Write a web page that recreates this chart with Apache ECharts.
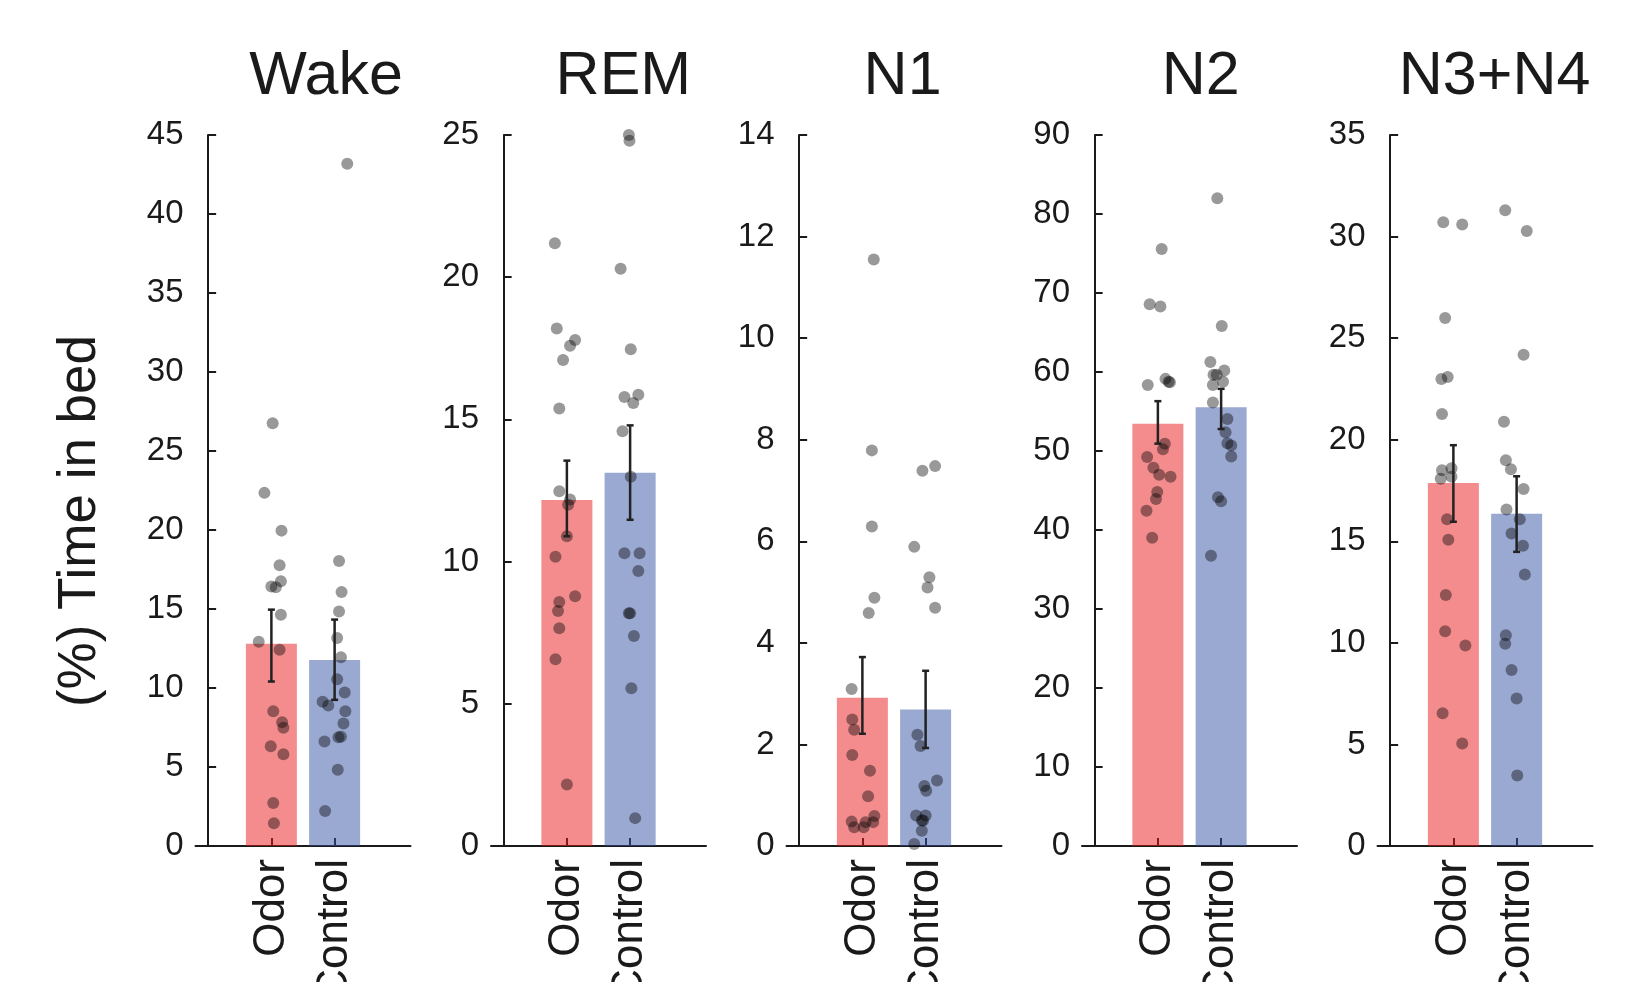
<!DOCTYPE html>
<html>
<head>
<meta charset="utf-8">
<script src="https://cdn.jsdelivr.net/npm/echarts@6/dist/echarts.min.js"></script>
<style>
html,body{margin:0;padding:0;background:#fff;}
#chart{width:1640px;height:982px;}
</style>
</head>
<body>
<div id="chart"></div>
<script>
// ---- data ----
const categories = ['Odor', 'Control'];
const panels = ['Wake', 'REM', 'N1', 'N2', 'N3+N4'];
const yMax = [45, 25, 14, 90, 35];
const yStep = [5, 5, 2, 10, 5];

const odorMean = [12.8, 12.17, 2.92, 53.45, 17.87];
const ctrlMean = [11.78, 13.12, 2.69, 55.54, 16.35];
const odorLo = [10.41, 10.89, 2.21, 50.93, 15.96];
const odorHi = [14.96, 13.55, 3.72, 56.31, 19.73];
const ctrlLo = [9.25, 11.47, 1.93, 52.78, 14.48];
const ctrlHi = [14.33, 14.79, 3.45, 57.87, 18.2];

const wakeOdor = [26.75,22.35,19.96,17.77,16.76,16.43,16.37,14.63,12.93,12.42,8.53,7.84,7.48,6.31,5.80,2.72,1.44];
const wakeOdorDx = [0.02,-0.11,0.16,0.13,0.15,0,0.07,0.15,-0.2,0.13,0.03,0.17,0.19,-0.01,0.19,0.03,0.04];
const wakeCtrl = [43.18,18.04,16.07,14.84,13.17,11.94,10.56,9.13,8.89,9.72,8.53,7.75,6.91,6.88,6.61,4.82,2.21];
const wakeCtrlDx = [0.2,0.07,0.11,0.07,0.04,0.1,0.04,-0.19,-0.1,0.16,0.17,0.14,0.1,0.06,-0.16,0.05,-0.15];

const remOdor = [21.19,18.2,17.79,17.59,17.09,15.38,12.47,12.18,12.0,10.89,10.17,8.78,8.58,8.26,7.66,6.57,2.16];
const remOdorDx = [-0.19,-0.16,0.13,0.05,-0.06,-0.12,-0.12,0.05,0.02,0,-0.18,0.13,-0.12,-0.14,-0.12,-0.18,0];
const remCtrl = [25.0,24.8,20.3,17.47,15.79,15.87,15.58,14.58,12.98,10.29,10.29,9.67,8.18,8.18,7.38,5.55,0.98];
const remCtrlDx = [-0.02,-0.01,-0.15,0.01,-0.09,0.13,0.05,-0.12,0.01,-0.09,0.15,0.13,-0.02,0,0.06,0.02,0.08];

const n1Odor = [11.55,7.79,6.29,4.89,4.59,3.09,2.49,2.29,1.79,1.48,0.98,0.59,0.48,0.37,0.37,0.47,0.47];
const n1OdorDx = [0.18,0.15,0.15,0.19,0.1,-0.17,-0.16,-0.13,-0.16,0.12,0.09,0.19,-0.17,-0.13,0.02,0.05,0.17];
const n1Ctrl = [7.48,7.39,5.89,5.29,5.09,4.69,2.19,1.97,1.29,1.18,1.09,0.6,0.6,0.5,0.5,0.3,0.04];
const n1CtrlDx = [0.15,-0.05,-0.18,0.06,0.03,0.15,-0.13,-0.08,0.18,-0.02,0.01,-0.15,0,-0.06,-0.04,-0.06,-0.18];

const n2Odor = [75.58,68.58,68.28,58.35,59.13,58.77,58.71,50.93,50.21,49.25,47.88,46.98,46.74,44.82,43.93,42.43,39.02];
const n2OdorDx = [0.06,-0.13,0.04,-0.16,0.12,0.17,0.19,0.11,0.08,-0.17,-0.07,0.02,0.2,-0.01,-0.03,-0.18,-0.09];
const n2Ctrl = [81.99,65.83,61.28,59.66,59.66,60.2,58.35,58.77,56.13,54.04,52.36,50.99,50.69,49.31,44.16,43.63,36.74];
const n2CtrlDx = [-0.06,0.01,-0.17,-0.12,-0.07,0.05,-0.13,0.03,-0.13,0.1,0.07,0.1,0.16,0.16,-0.05,0,-0.16];

const n34Odor = [30.7,30.6,25.99,22.99,23.09,21.27,18.5,18.59,18.08,18.18,16.08,15.08,12.36,10.57,9.87,6.54,5.05];
const n34OdorDx = [-0.16,0.14,-0.13,-0.19,-0.09,-0.18,-0.18,-0.03,-0.2,-0.03,-0.1,-0.08,-0.12,-0.13,0.19,-0.17,0.14];
const n34Ctrl = [31.3,30.28,24.18,20.88,18.99,18.55,17.57,16.57,16.08,15.38,14.78,13.36,10.38,9.96,8.66,7.26,3.47];
const n34CtrlDx = [-0.18,0.16,0.11,-0.2,-0.17,-0.09,0.11,-0.16,0.05,-0.08,0.1,0.13,-0.17,-0.18,-0.08,0,0.01];

const odorPoints = [wakeOdor, remOdor, n1Odor, n2Odor, n34Odor];
const odorJitter = [wakeOdorDx, remOdorDx, n1OdorDx, n2OdorDx, n34OdorDx];
const ctrlPoints = [wakeCtrl, remCtrl, n1Ctrl, n2Ctrl, n34Ctrl];
const ctrlJitter = [wakeCtrlDx, remCtrlDx, n1CtrlDx, n2CtrlDx, n34CtrlDx];

// ---- styling / layout ----
const FONT = '"Liberation Sans", Arial, Helvetica, sans-serif';
const TXT = '#1a1a1a';
const odorColor = 'rgba(233,25,27,0.5)';
const ctrlColor = 'rgba(53,83,165,0.5)';
const gridLeft0 = 195.5, gridStep = 295.5, gridW = 215;
const titleX = [326, 623.4, 902.6, 1200.7, 1494.6];

const chart = echarts.init(document.getElementById('chart'), null, {renderer: 'canvas'});

const grid = [], xAxis = [], yAxis = [], series = [], graphic = [];
panels.forEach((name, i) => {
  grid.push({left: gridLeft0 + i * gridStep, top: 135, width: gridW, bottom: 136,
    containLabel: false, outerBoundsMode: 'none'});
  xAxis.push({
    type: 'value', gridIndex: i, min: -0.2, max: 3.2,
    axisLine: {show: true, lineStyle: {color: '#1a1a1a', width: 2}},
    axisTick: {show: true, inside: true, length: 8, customValues: [1, 2], lineStyle: {color: '#1a1a1a', width: 2}},
    axisLabel: {show: true, customValues: [1, 2], rotate: 90, margin: 13,
      formatter: v => categories[Math.round(v) - 1] || '',
      fontSize: 44, fontFamily: FONT, color: TXT},
    splitLine: {show: false}
  });
  yAxis.push({
    type: 'value', gridIndex: i, min: 0, max: yMax[i], interval: yStep[i],
    axisLine: {show: true, lineStyle: {color: '#1a1a1a', width: 2}},
    axisTick: {show: true, inside: true, length: 8, lineStyle: {color: '#1a1a1a', width: 2}},
    axisLabel: {fontSize: 33, fontFamily: FONT, color: TXT, margin: 12},
    splitLine: {show: false}
  });
  series.push({
    type: 'bar', xAxisIndex: i, yAxisIndex: i, barWidth: 51, z: 2,
    data: [
      {value: [1, odorMean[i]], itemStyle: {color: odorColor}},
      {value: [2, ctrlMean[i]], itemStyle: {color: ctrlColor}}
    ]
  });
  const pts = [];
  odorPoints[i].forEach((v, k) => pts.push([1 + odorJitter[i][k], v]));
  ctrlPoints[i].forEach((v, k) => pts.push([2 + ctrlJitter[i][k], v]));
  series.push({
    type: 'scatter', xAxisIndex: i, yAxisIndex: i, symbolSize: 12, z: 3,
    itemStyle: {color: 'rgba(0,0,0,0.5)'}, data: pts
  });
  series.push({
    type: 'custom', xAxisIndex: i, yAxisIndex: i, z: 4,
    data: [[1, odorLo[i], odorHi[i]], [2, ctrlLo[i], ctrlHi[i]]],
    renderItem: (params, api) => {
      const lo = api.coord([api.value(0), api.value(1)]);
      const hi = api.coord([api.value(0), api.value(2)]);
      const c = 3.5;
      const st = {stroke: '#222', lineWidth: 2.5};
      return {type: 'group', children: [
        {type: 'line', shape: {x1: lo[0], y1: lo[1], x2: hi[0], y2: hi[1]}, style: st},
        {type: 'line', shape: {x1: lo[0] - c, y1: lo[1], x2: lo[0] + c, y2: lo[1]}, style: st},
        {type: 'line', shape: {x1: hi[0] - c, y1: hi[1], x2: hi[0] + c, y2: hi[1]}, style: st}
      ]};
    }
  });
  graphic.push({
    type: 'text', x: titleX[i], y: 77,
    style: {text: name, font: '61px ' + FONT, fill: TXT, textAlign: 'center', textVerticalAlign: 'middle'}
  });
});
graphic.push({
  type: 'text', x: 80, y: 521, rotation: Math.PI / 2,
  style: {text: '(%) Time in bed', font: '53px ' + FONT, fill: TXT, textAlign: 'center', textVerticalAlign: 'middle'}
});

chart.setOption({animation: false, grid, xAxis, yAxis, series, graphic});
</script>
</body>
</html>
